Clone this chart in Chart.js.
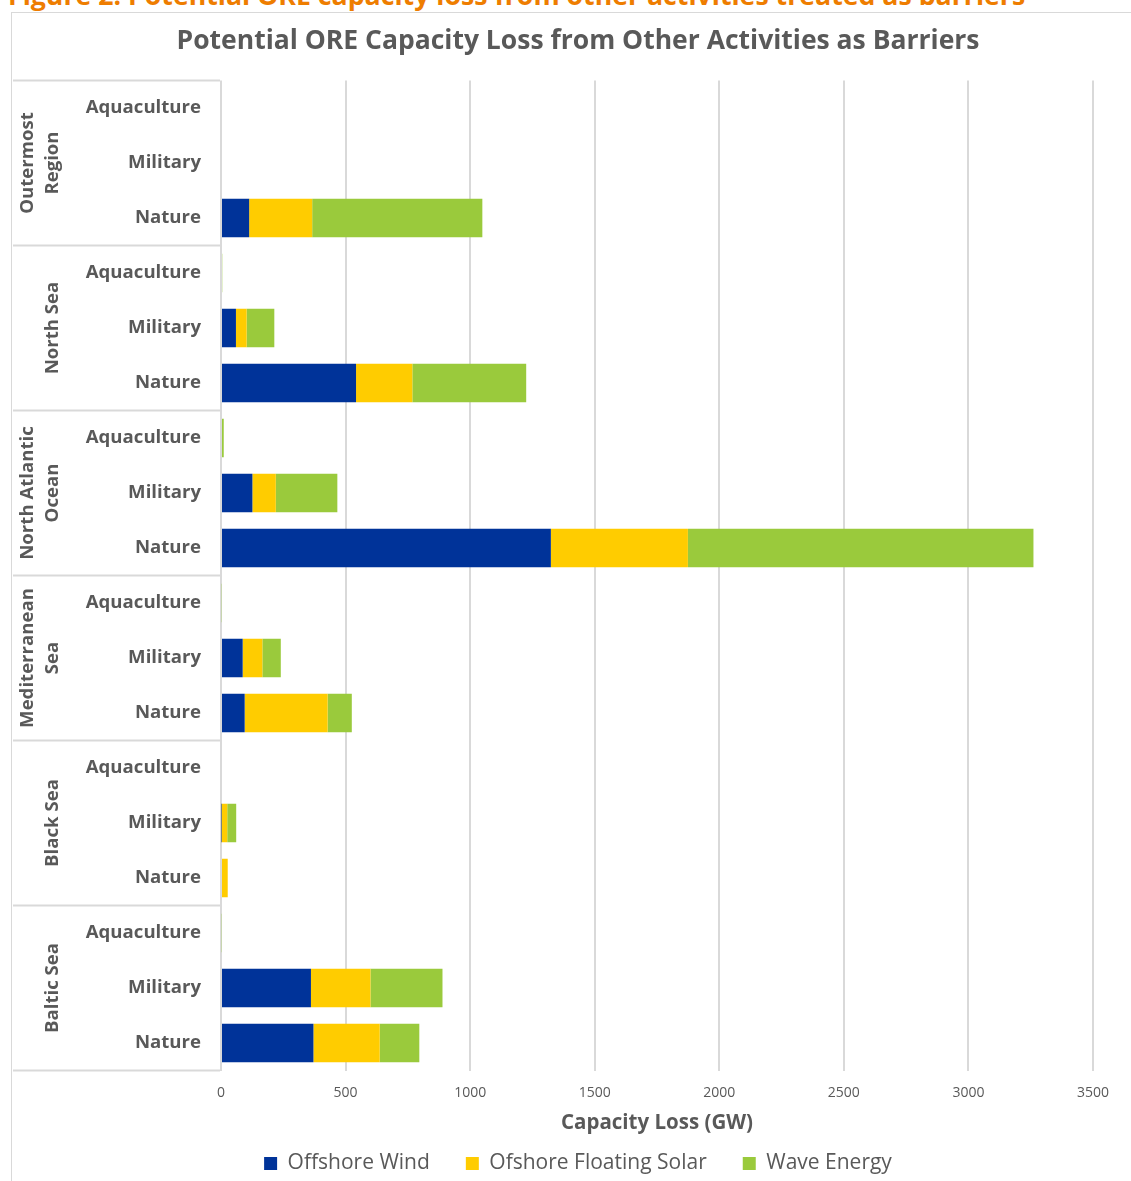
<!DOCTYPE html>
<html>
<head>
<meta charset="utf-8">
<script src="https://cdn.jsdelivr.net/npm/chart.js@4.4.1/dist/chart.umd.min.js"></script>
<style>
  body { margin: 0; background: #fff; font-family: "Open Sans", sans-serif; }
  #caption { position: absolute; left: 8px; top: -24px; font-weight: 700; font-size: 26.7px; color: #ee7d00; white-space: nowrap; }
  #marco { position: absolute; left: 11px; top: 12px; width: 1140px; height: 1200px; border: 1px solid #d9d9d9; }
  #caja { position: absolute; left: 0; top: 0; width: 1131px; height: 1181px; }
</style>
</head>
<body>
<div id="caption">Figure 2: Potential ORE capacity loss from other activities treated as barriers</div>
<div id="marco"></div>
<div id="caja"><canvas id="grafico1"></canvas></div>
<script>
const regiones = ['Outermost Region', 'North Sea', 'North Atlantic Ocean', 'Mediterranean Sea', 'Black Sea', 'Baltic Sea'];
const regionesLineas = [['Outermost', 'Region'], ['North Sea'], ['North Atlantic', 'Ocean'], ['Mediterranean', 'Sea'], ['Black Sea'], ['Baltic Sea']];
const actividades = ['Aquaculture', 'Military', 'Nature'];

// un valor por fila: region x actividad
const offshoreWind  = [0, 0, 113,   0, 60, 542,   0, 126, 1324,  0, 87, 95,   0, 2, 0,    0, 361, 371];
const floatingSolar = [0, 0, 253,   0, 43, 226,   0, 94, 550,    0, 79, 333,  0, 23, 27,  0, 239, 266];
const waveEnergy    = [0, 0, 683,   5, 111, 457,  11, 247, 1387, 3, 74, 97,   0, 36, 0,   3, 289, 159];

const ticksX = [0, 500, 1000, 1500, 2000, 2500, 3000, 3500];

document.addEventListener("DOMContentLoaded", () => {
  const lienzo = document.querySelector("#grafico1");
  const gris = '#595959';
  const linea = '#d9d9d9';

  let etiquetas = [];
  regiones.forEach(() => actividades.forEach(a => etiquetas.push(a)));

  // caja de categorias agrupadas a la izquierda
  const grupos = {
    id: 'grupos',
    afterDraw(chart) {
      const ctx = chart.ctx;
      const ejeY = chart.scales.y;
      const paso = ejeY.getPixelForValue(1) - ejeY.getPixelForValue(0);
      ctx.save();
      ctx.strokeStyle = linea;
      ctx.lineWidth = 2;
      for (let i = 0; i <= regiones.length; i++) {
        const y = ejeY.getPixelForValue(i * 3) - paso / 2;
        ctx.beginPath();
        ctx.moveTo(13, y);
        ctx.lineTo(220, y);
        ctx.stroke();
      }
      ctx.fillStyle = gris;
      ctx.font = 'bold 18.6px "Open Sans"';
      ctx.textAlign = 'center';
      ctx.textBaseline = 'middle';
      regionesLineas.forEach((lineas, i) => {
        const yc = ejeY.getPixelForValue(i * 3 + 1);
        lineas.forEach((txt, j) => {
          const x = 53 - (lineas.length - 1 - j) * 25;
          ctx.save();
          ctx.translate(x, yc);
          ctx.rotate(-Math.PI / 2);
          ctx.fillText(txt, 0, 0);
          ctx.restore();
        });
      });
      ctx.restore();
    }
  };

  new Chart(lienzo, {
    type: 'bar',
    data: {
      labels: etiquetas,
      datasets: [
        { label: 'Offshore Wind', data: offshoreWind, backgroundColor: '#003399', borderWidth: 0 },
        { label: 'Ofshore Floating Solar', data: floatingSolar, backgroundColor: '#ffcc00', borderWidth: 0 },
        { label: 'Wave Energy', data: waveEnergy, backgroundColor: '#9aca3c', borderWidth: 0 }
      ]
    },
    options: {
      indexAxis: 'y',
      responsive: true,
      maintainAspectRatio: false,
      animation: false,
      layout: { padding: { left: 63, right: 38, top: 0, bottom: -3 } },
      datasets: { bar: { categoryPercentage: 1, barPercentage: 0.7 } },
      scales: {
        x: {
          stacked: true,
          min: 0,
          max: 3500,
          afterBuildTicks: eje => { eje.ticks = ticksX.map(v => ({ value: v })); },
          afterFit: eje => { eje.height = 46.5; },
          grid: { color: linea, lineWidth: 2, drawTicks: false },
          border: { display: false },
          ticks: { color: gris, font: { family: 'Open Sans', size: 14 }, padding: 14, callback: v => String(v) },
          title: {
            display: true,
            text: 'Capacity Loss (GW)',
            color: gris,
            font: { family: 'Open Sans', size: 20.5, weight: 'bold', lineHeight: 1.2 },
            padding: { top: 0, bottom: -18 }
          }
        },
        y: {
          stacked: true,
          grid: { display: false, drawTicks: false },
          border: { display: false },
          ticks: { color: gris, font: { family: 'Open Sans', size: 18.6, weight: 'bold' }, padding: 20, autoSkip: false },
          afterFit: eje => { eje.width = 158; }
        }
      },
      plugins: {
        title: {
          display: true,
          text: 'Potential ORE Capacity Loss from Other Activities as Barriers',
          color: gris,
          font: { family: 'Open Sans', size: 26.5, weight: 'bold', lineHeight: 1.2 },
          padding: { top: 26, bottom: 22.7 }
        },
        legend: {
          position: 'bottom',
          labels: {
            color: gris,
            font: { family: 'Open Sans', size: 21 },
            boxWidth: 13,
            boxHeight: 13,
            padding: 36
          }
        },
        tooltip: { enabled: false }
      }
    },
    plugins: [grupos]
  });
});
</script>
</body>
</html>
